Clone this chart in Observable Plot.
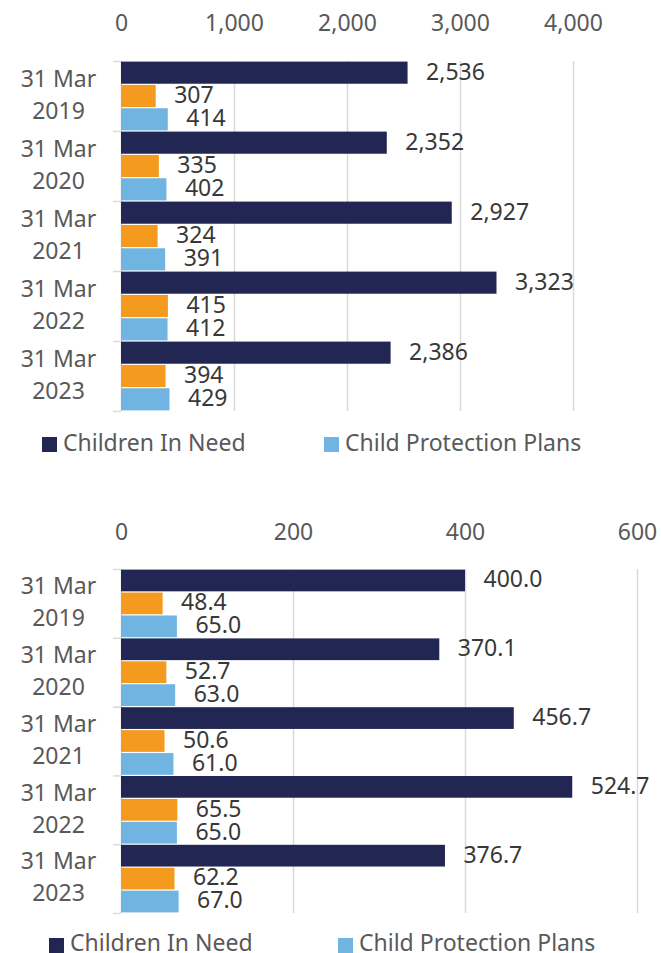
<!DOCTYPE html>
<html><head><meta charset="utf-8">
<script src="https://cdn.jsdelivr.net/npm/d3@7"></script>
<script src="https://cdn.jsdelivr.net/npm/@observablehq/plot@0.6"></script>
<style>
body{margin:0;background:#fff;font-family:"Noto Sans",sans-serif;}
#wrap{position:relative;width:661px;height:953px;overflow:hidden;background:#fff;}
.chart{position:absolute;left:0;}
.sw{position:absolute;width:15px;height:15px;}
.lt{position:absolute;font-size:23px;line-height:20px;color:#595959;white-space:nowrap;font-family:"Noto Sans",sans-serif;}
</style></head><body><div id="wrap"></div>
<script>
// ---- data ----
const dateLabels = ["31 Mar\n2019", "31 Mar\n2020", "31 Mar\n2021", "31 Mar\n2022", "31 Mar\n2023"];
const seriesNames = ["Children In Need", "Series 2", "Child Protection Plans"];
const seriesColors = ["#222652", "#F49A1E", "#70B4E2"];

const countsCIN = [2536, 2352, 2927, 3323, 2386];
const countsSeries2 = [307, 335, 324, 415, 394];
const countsCPP = [414, 402, 391, 412, 429];
const countTicks = [0, 1000, 2000, 3000, 4000];

const ratesCIN = [400.0, 370.1, 456.7, 524.7, 376.7];
const ratesSeries2 = [48.4, 52.7, 50.6, 65.5, 62.2];
const ratesCPP = [65.0, 63.0, 61.0, 65.0, 67.0];
const rateTicks = [0, 200, 400, 600];

const legendNames = ["Children In Need", "Child Protection Plans"];
const legendColors = ["#222652", "#70B4E2"];

// ---- helpers ----
function buildRows(seriesArrays) {
  const rows = [];
  dateLabels.forEach((d, i) => {
    seriesArrays.forEach((arr, s) => {
      rows.push({key: i + "|" + s, date: d, series: seriesNames[s], value: arr[i]});
    });
  });
  return rows;
}

function makeChart(cfg) {
  const rows = buildRows(cfg.series);
  const keys = rows.map(r => r.key);
  const firstKeys = dateLabels.map((d, i) => i + "|0");
  const midKeys = dateLabels.map((d, i) => i + "|1");
  const lastKey = (dateLabels.length - 1) + "|2";
  const bw = (cfg.frameBottom - cfg.frameTop) / keys.length;
  const grid = "#d9d9d9";
  return Plot.plot({
    width: 661,
    height: cfg.height,
    marginLeft: 121,
    marginRight: cfg.marginRight,
    marginTop: cfg.frameTop - cfg.top,
    marginBottom: cfg.height - (cfg.frameBottom - cfg.top),
    style: {fontFamily: "Noto Sans", fontSize: "23px", background: "white", overflow: "visible"},
    x: {domain: [0, cfg.ticks[cfg.ticks.length - 1]], axis: null},
    y: {domain: keys, padding: 0, round: false, axis: null},
    color: {domain: seriesNames, range: seriesColors},
    marks: [
      Plot.gridX({ticks: cfg.ticks.slice(1), stroke: grid, strokeOpacity: 1, strokeWidth: 1.5}),
      Plot.ruleX([0], {stroke: grid, strokeWidth: 1.5}),
      Plot.axisX({anchor: "top", ticks: cfg.ticks, tickFormat: cfg.tickFmt, tickSize: 0, tickPadding: cfg.tickPadding, fill: "#595959", fontSize: 23, label: null}),
      Plot.axisY({ticks: firstKeys, tickFormat: () => "", tickSize: 8, dy: -bw / 2, stroke: grid, strokeWidth: 1.5, label: null}),
      Plot.axisY({ticks: [lastKey], tickFormat: () => "", tickSize: 8, dy: bw / 2, stroke: grid, strokeWidth: 1.5, label: null}),
      Plot.axisY({ticks: midKeys, tickFormat: k => dateLabels[+k.split("|")[0]], tickSize: 0, tickPadding: 63, textAnchor: "middle", lineHeight: 1.39, fill: "#595959", fontSize: 23, dy: -4, label: null}),
      Plot.barX(rows, {x: "value", y: "key", fill: "series", insetTop: 0.6, insetBottom: 0.6}),
      Plot.text(rows, {x: "value", y: "key", text: d => cfg.valFmt(d.value), dx: 18, dy: -1, textAnchor: "start", fill: "#383838", fontSize: 23})
    ]
  });
}

const wrap = document.getElementById("wrap");

function place(el, top) {
  el.classList.add("chart");
  el.style.top = top + "px";
  wrap.appendChild(el);
}

function legend(y, swX, textX, swTop) {
  legendNames.forEach((n, i) => {
    const sw = document.createElement("div");
    sw.className = "sw";
    sw.style.left = swX[i] + "px";
    sw.style.top = swTop + "px";
    sw.style.background = legendColors[i];
    wrap.appendChild(sw);
    const t = document.createElement("div");
    t.className = "lt";
    t.style.left = textX[i] + "px";
    t.style.top = y + "px";
    t.textContent = n;
    wrap.appendChild(t);
  });
}

// chart 1: counts
place(makeChart({
  series: [countsCIN, countsSeries2, countsCPP],
  ticks: countTicks,
  tickFmt: d3.format(","),
  valFmt: d3.format(","),
  top: 0, height: 420, frameTop: 61, frameBottom: 411,
  marginRight: 88, tickPadding: 31
}), 0);
legend(431.5, [42, 324], [63, 345], 437);

// chart 2: rates
place(makeChart({
  series: [ratesCIN, ratesSeries2, ratesCPP],
  ticks: rateTicks,
  tickFmt: d3.format(","),
  valFmt: d => d.toFixed(1),
  top: 480, height: 440, frameTop: 569, frameBottom: 913,
  marginRight: 24, tickPadding: 30
}), 480);
legend(932, [49, 338], [70, 359], 938);
</script></body></html>
